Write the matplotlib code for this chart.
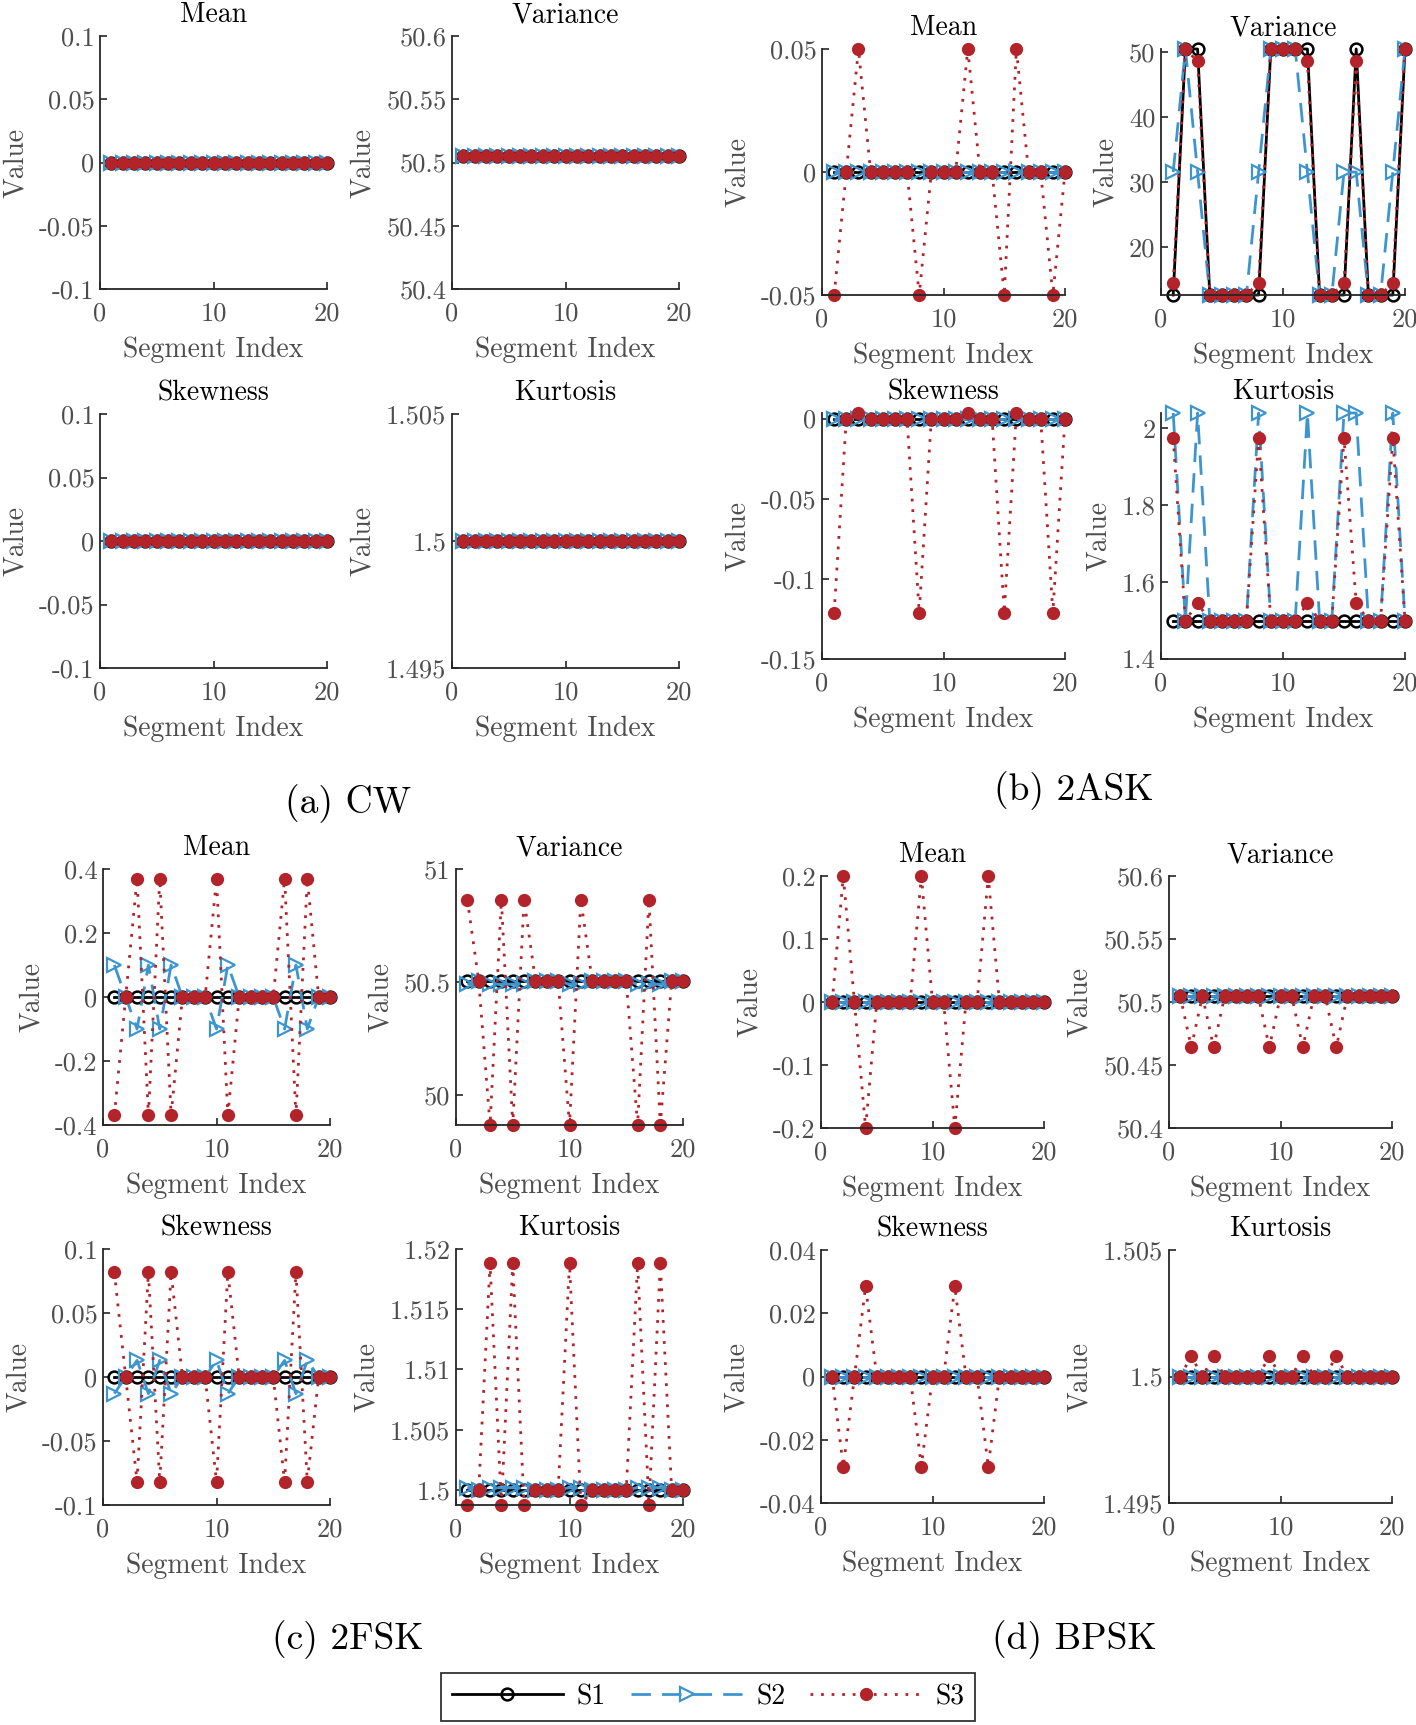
import matplotlib
matplotlib.use('Agg')
import matplotlib.pyplot as plt

plt.rcParams['font.family'] = ['cmr10', 'DejaVu Serif']
plt.rcParams['axes.unicode_minus'] = False
plt.rcParams['axes.formatter.use_mathtext'] = False

W, H = 1416, 1725

# indices des segments
segments = list(range(1, 21))

# ---- (a) CW
cw_mean = [0.0] * 20
cw_var = [50.505] * 20
cw_skew = [0.0] * 20
cw_kurt = [1.5] * 20

# ---- (b) 2ASK
ask_mean_s1 = [0.0] * 20
ask_mean_s2 = [0.0] * 20
ask_mean_s3 = [-0.05, 0, 0.05, 0, 0, 0, 0, -0.05, 0, 0, 0, 0.05, 0, 0, -0.05, 0.05, 0, 0, -0.05, 0]
ask_var_s1 = [12.6, 50.42, 50.42, 12.6, 12.6, 12.6, 12.6, 12.6, 50.42, 50.42,
              50.42, 50.42, 12.6, 12.6, 12.6, 50.42, 12.6, 12.6, 12.6, 50.42]
ask_var_s2 = [31.5, 50.42, 31.5, 12.6, 12.6, 12.6, 12.6, 31.5, 50.42, 50.42,
              50.42, 31.5, 12.6, 12.6, 31.5, 31.5, 12.6, 12.6, 31.5, 50.42]
ask_var_s3 = [14.5, 50.42, 48.5, 12.6, 12.6, 12.6, 12.6, 14.5, 50.42, 50.42,
              50.42, 48.5, 12.6, 12.6, 14.5, 48.5, 12.6, 12.6, 14.5, 50.42]
ask_skew_s1 = [0.0] * 20
ask_skew_s2 = [0.0] * 20
ask_skew_s3 = [-0.121, 0, 0.0035, 0, 0, 0, 0, -0.121, 0, 0,
               0, 0.0035, 0, 0, -0.121, 0.0035, 0, 0, -0.121, 0]
ask_kurt_s1 = [1.5] * 20
ask_kurt_s2 = [2.04, 1.5, 2.04, 1.5, 1.5, 1.5, 1.5, 2.04, 1.5, 1.5,
               1.5, 2.04, 1.5, 1.5, 2.04, 2.04, 1.5, 1.5, 2.04, 1.5]
ask_kurt_s3 = [1.975, 1.5, 1.545, 1.5, 1.5, 1.5, 1.5, 1.975, 1.5, 1.5,
               1.5, 1.545, 1.5, 1.5, 1.975, 1.545, 1.5, 1.5, 1.975, 1.5]

# ---- (c) 2FSK
fsk_mean_s1 = [0.0] * 20
fsk_mean_s2 = [0.1, 0, -0.1, 0.1, -0.1, 0.1, 0, 0, 0, -0.1,
               0.1, 0, 0, 0, 0, -0.1, 0.1, -0.1, 0, 0]
fsk_mean_s3 = [-0.37, 0, 0.37, -0.37, 0.37, -0.37, 0, 0, 0, 0.37,
               -0.37, 0, 0, 0, 0, 0.37, -0.37, 0.37, 0, 0]
fsk_var_s1 = [50.505] * 20
fsk_var_s2 = [50.49, 50.505, 50.49, 50.49, 50.49, 50.49, 50.505, 50.505, 50.505, 50.49,
              50.49, 50.505, 50.505, 50.505, 50.505, 50.49, 50.49, 50.49, 50.505, 50.505]
fsk_var_s3 = [50.865, 50.505, 49.868, 50.865, 49.868, 50.865, 50.505, 50.505, 50.505, 49.868,
              50.865, 50.505, 50.505, 50.505, 50.505, 49.868, 50.865, 49.868, 50.505, 50.505]
fsk_skew_s1 = [0.0] * 20
fsk_skew_s2 = [-0.013, 0, 0.013, -0.013, 0.013, -0.013, 0, 0, 0, 0.013,
               -0.013, 0, 0, 0, 0, 0.013, -0.013, 0.013, 0, 0]
fsk_skew_s3 = [0.082, 0, -0.082, 0.082, -0.082, 0.082, 0, 0, 0, -0.082,
               0.082, 0, 0, 0, 0, -0.082, 0.082, -0.082, 0, 0]
fsk_kurt_s1 = [1.5] * 20
fsk_kurt_s2 = [1.5002, 1.5, 1.5002, 1.5002, 1.5002, 1.5002, 1.5, 1.5, 1.5, 1.5002,
               1.5002, 1.5, 1.5, 1.5, 1.5, 1.5002, 1.5002, 1.5002, 1.5, 1.5]
fsk_kurt_s3 = [1.49875, 1.5, 1.5188, 1.49875, 1.5188, 1.49875, 1.5, 1.5, 1.5, 1.5188,
               1.49875, 1.5, 1.5, 1.5, 1.5, 1.5188, 1.49875, 1.5188, 1.5, 1.5]

# ---- (d) BPSK
psk_mean_s1 = [0.0] * 20
psk_mean_s2 = [0.0] * 20
psk_mean_s3 = [0, 0.2, 0, -0.2, 0, 0, 0, 0, 0.2, 0,
               0, -0.2, 0, 0, 0.2, 0, 0, 0, 0, 0]
psk_var_s1 = [50.505] * 20
psk_var_s2 = [50.505] * 20
psk_var_s3 = [50.505, 50.464, 50.505, 50.464, 50.505, 50.505, 50.505, 50.505, 50.464, 50.505,
              50.505, 50.464, 50.505, 50.505, 50.464, 50.505, 50.505, 50.505, 50.505, 50.505]
psk_skew_s1 = [0.0] * 20
psk_skew_s2 = [0.0] * 20
psk_skew_s3 = [0, -0.0285, 0, 0.0285, 0, 0, 0, 0, -0.0285, 0,
               0, 0.0285, 0, 0, -0.0285, 0, 0, 0, 0, 0]
psk_kurt_s1 = [1.5] * 20
psk_kurt_s2 = [1.5] * 20
psk_kurt_s3 = [1.5, 1.5008, 1.5, 1.5008, 1.5, 1.5, 1.5, 1.5, 1.5008, 1.5,
               1.5, 1.5008, 1.5, 1.5, 1.5008, 1.5, 1.5, 1.5, 1.5, 1.5]

noms_groupes = ['(a) CW', '(b) 2ASK', '(c) 2FSK', '(d) BPSK']
noms_series = ['S1', 'S2', 'S3']

t_mean = [-0.1, -0.05, 0, 0.05, 0.1]
t_var = [50.4, 50.45, 50.5, 50.55, 50.6]
t_kurt = [1.495, 1.5, 1.505]

# (titre, rect pixels gauche/haut/droite/bas, ylim, yticks, s1, s2, s3)
panneaux = [
    ('Mean', (100, 36, 327, 289), (-0.1, 0.1), t_mean, cw_mean, cw_mean, cw_mean),
    ('Variance', (452, 36, 679, 289), (50.4, 50.6), t_var, cw_var, cw_var, cw_var),
    ('Skewness', (100, 414, 327, 668), (-0.1, 0.1), t_mean, cw_skew, cw_skew, cw_skew),
    ('Kurtosis', (452, 414, 679, 668), (1.495, 1.505), t_kurt, cw_kurt, cw_kurt, cw_kurt),

    ('Mean', (822, 49, 1065, 295), (-0.05, 0.05), [-0.05, 0, 0.05], ask_mean_s1, ask_mean_s2, ask_mean_s3),
    ('Variance', (1161, 49, 1405, 295), (12.6, 50.42), [20, 30, 40, 50], ask_var_s1, ask_var_s2, ask_var_s3),
    ('Skewness', (822, 413, 1065, 659), (-0.15, 0.0035), [-0.15, -0.1, -0.05, 0], ask_skew_s1, ask_skew_s2, ask_skew_s3),
    ('Kurtosis', (1161, 413, 1405, 659), (1.4, 2.04), [1.4, 1.6, 1.8, 2], ask_kurt_s1, ask_kurt_s2, ask_kurt_s3),

    ('Mean', (103, 869, 330, 1125), (-0.4, 0.4), [-0.4, -0.2, 0, 0.2, 0.4], fsk_mean_s1, fsk_mean_s2, fsk_mean_s3),
    ('Variance', (456, 869, 683, 1125), (49.868, 51), [50, 50.5, 51], fsk_var_s1, fsk_var_s2, fsk_var_s3),
    ('Skewness', (103, 1249, 330, 1505), (-0.1, 0.1), t_mean, fsk_skew_s1, fsk_skew_s2, fsk_skew_s3),
    ('Kurtosis', (456, 1249, 683, 1505), (1.49875, 1.52), [1.5, 1.505, 1.51, 1.515, 1.52], fsk_kurt_s1, fsk_kurt_s2, fsk_kurt_s3),

    ('Mean', (821, 876, 1044, 1128), (-0.2, 0.2), [-0.2, -0.1, 0, 0.1, 0.2], psk_mean_s1, psk_mean_s2, psk_mean_s3),
    ('Variance', (1169, 876, 1392, 1128), (50.4, 50.6), t_var, psk_var_s1, psk_var_s2, psk_var_s3),
    ('Skewness', (821, 1250, 1044, 1503), (-0.04, 0.04), [-0.04, -0.02, 0, 0.02, 0.04], psk_skew_s1, psk_skew_s2, psk_skew_s3),
    ('Kurtosis', (1169, 1250, 1392, 1503), (1.495, 1.505), t_kurt, psk_kurt_s1, psk_kurt_s2, psk_kurt_s3),
]

bleu = '#3d95d0'
rouge = '#b3242a'
gris_axe = '#262626'
gris_txt = '#4d4d4d'

fig = plt.figure(figsize=(W / 100, H / 100), dpi=100)

lignes = None
for titre, (g, h, d, b), ylim, yticks, s1, s2, s3 in panneaux:
    ax = fig.add_axes([g / W, 1 - b / H, (d - g) / W, (b - h) / H])
    l1, = ax.plot(segments, s1, color='k', lw=2, marker='o', ms=8.5, mfc='none', mew=1.8,
                  clip_on=False)
    l2, = ax.plot(segments, s2, color=bleu, lw=2, ls=(0, (7, 4)), marker='>', ms=10,
                  mfc='none', mew=1.6, clip_on=False)
    l3, = ax.plot(segments, s3, color=rouge, lw=2, ls=(0, (1, 2.8)), marker='o',
                  ms=8, mew=1.5, clip_on=False)
    if lignes is None:
        lignes = [l1, l2, l3]

    ax.set_xlim(0, 20)
    ax.set_ylim(*ylim)
    ax.set_xticks([0, 10, 20])
    ax.set_xticklabels(['0', '10', '20'])
    ax.set_yticks(yticks)
    ax.set_yticklabels([f'{v:g}' for v in yticks])

    for cote in ['top', 'right']:
        ax.spines[cote].set_visible(False)
    for cote in ['left', 'bottom']:
        ax.spines[cote].set_color(gris_axe)
        ax.spines[cote].set_linewidth(1.3)
    ax.tick_params(direction='in', length=5, width=1.2, color=gris_axe,
                   labelsize=19, labelcolor=gris_txt)
    ax.tick_params(axis='x', pad=9)
    ax.tick_params(axis='y', pad=4)

    ax.set_title(titre, fontsize=20, pad=10)
    ax.set_xlabel('Segment Index', fontsize=20, color=gris_txt, labelpad=8)
    ax.set_ylabel('Value', fontsize=20, color=gris_txt, labelpad=7)

# titres des groupes
pos_groupes = [(348, 804), (1074, 791), (348, 1640), (1074, 1640)]
for nom, (x, y) in zip(noms_groupes, pos_groupes):
    fig.text(x / W, 1 - y / H, nom, fontsize=27, ha='center', va='center')

leg = fig.legend(lignes, noms_series, loc='center', bbox_to_anchor=(708 / W, 1 - 1697 / H),
                 ncol=3, fontsize=20, frameon=True, fancybox=False, handlelength=4.0,
                 columnspacing=0.9, handletextpad=0.5, borderpad=0.4, numpoints=1)
leg.get_frame().set_edgecolor('k')
leg.get_frame().set_linewidth(1.3)

fig.savefig('out.png', dpi=100)
